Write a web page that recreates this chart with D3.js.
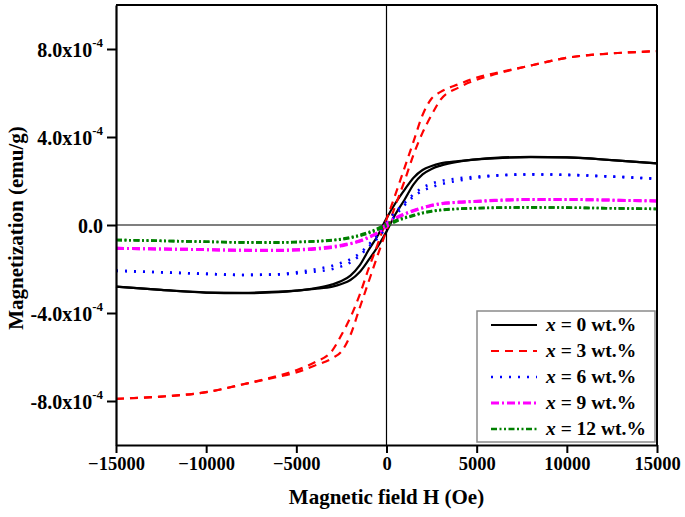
<!DOCTYPE html>
<html><head><meta charset="utf-8">
<script src="https://cdn.jsdelivr.net/npm/d3@7"></script>
<style>
body{margin:0;background:#fff}
svg{display:block}
</style>
</head><body><svg id="chart" width="685" height="517" font-family="'Liberation Serif', 'Times New Roman', Times, serif" font-weight="bold"></svg>
<script>
// ---- data (magnetization in units of 1e-4 emu/g) ----
const unit = 1e-4;
const fieldH = [-15000,-12500,-10000,-8000,-6000,-5000,-4000,-3000,-2500,-2000,-1500,-1000,-500,0,500,1000,1500,2000,2500,3000,4000,5000,6000,8000,10000,12500,15000];

const x0Down = [-2.80,-2.95,-3.07,-3.10,-3.05,-2.98,-2.88,-2.70,-2.55,-2.30,-1.85,-1.15,-0.50,0.30,1.00,1.60,2.15,2.50,2.68,2.80,2.90,2.98,3.03,3.08,3.07,2.95,2.80];
const x0Up   = [-2.80,-2.95,-3.07,-3.08,-3.03,-2.98,-2.90,-2.80,-2.68,-2.50,-2.15,-1.60,-1.00,-0.30,0.50,1.15,1.85,2.30,2.55,2.70,2.88,2.98,3.05,3.10,3.07,2.95,2.80];

const x3Down = [-7.90,-7.80,-7.60,-7.25,-6.85,-6.60,-6.25,-5.70,-5.00,-4.20,-3.20,-2.00,-0.90,0.25,1.40,2.60,3.80,5.00,5.75,6.05,6.40,6.70,6.90,7.25,7.60,7.80,7.90];
const x3Up   = [-7.90,-7.80,-7.60,-7.25,-6.90,-6.70,-6.40,-6.05,-5.75,-5.00,-3.80,-2.60,-1.40,-0.25,0.90,2.00,3.20,4.20,5.00,5.70,6.25,6.60,6.85,7.25,7.60,7.80,7.90];

const x6Down = [-2.08,-2.15,-2.22,-2.27,-2.24,-2.15,-2.02,-1.85,-1.72,-1.55,-1.30,-0.90,-0.45,0.10,0.60,1.00,1.40,1.70,1.88,2.00,2.12,2.20,2.25,2.30,2.28,2.20,2.10];
const x6Up   = [-2.08,-2.15,-2.22,-2.27,-2.25,-2.20,-2.12,-2.00,-1.88,-1.70,-1.40,-1.00,-0.60,-0.10,0.45,0.90,1.30,1.55,1.72,1.85,2.02,2.15,2.24,2.30,2.28,2.20,2.10];

const x9Down = [-1.06,-1.09,-1.12,-1.15,-1.15,-1.12,-1.07,-0.98,-0.92,-0.84,-0.74,-0.58,-0.34,0.05,0.32,0.50,0.64,0.78,0.90,0.97,1.04,1.08,1.12,1.16,1.16,1.13,1.09];
const x9Up   = [-1.06,-1.09,-1.12,-1.15,-1.16,-1.14,-1.10,-1.02,-0.95,-0.86,-0.72,-0.55,-0.36,-0.08,0.28,0.50,0.66,0.78,0.88,0.96,1.03,1.07,1.11,1.16,1.16,1.13,1.09];

const x12Down = [-0.68,-0.72,-0.76,-0.79,-0.79,-0.77,-0.74,-0.68,-0.63,-0.56,-0.46,-0.33,-0.16,0.05,0.20,0.34,0.45,0.56,0.64,0.69,0.74,0.77,0.79,0.80,0.79,0.76,0.73];
const x12Up   = [-0.68,-0.72,-0.76,-0.79,-0.80,-0.78,-0.75,-0.70,-0.66,-0.59,-0.50,-0.38,-0.22,-0.05,0.15,0.30,0.42,0.53,0.61,0.67,0.73,0.76,0.78,0.80,0.79,0.76,0.73];

const seriesLabels = ["0","3","6","9","12"];
const xTickValues = [-15000,-10000,-5000,0,5000,10000,15000];
const yTickValues = [-8e-4,-4e-4,0,4e-4,8e-4];
const yTickMantissa = ["-8.0x10","-4.0x10","0.0","4.0x10","8.0x10"];
const yTickExponent = "-4";
const xTitle = "Magnetic field H (Oe)";
const yTitle = "Magnetization (emu/g)";

const FONT = "'Liberation Serif', 'Times New Roman', Times, serif";

// ---- styles ----
const styles = [
  {color:"#000000", dash:null, width:2.2},
  {color:"#ff0000", dash:"8,6", width:2.2},
  {color:"#0000ff", dash:"2,7", width:2.6},
  {color:"#ff00ff", dash:"8,3,2,3", width:3},
  {color:"#008000", dash:"6,2.5,2,2.5,2,2.5", width:2.6}
];
const branches = [[x0Down,x0Up],[x3Down,x3Up],[x6Down,x6Up],[x9Down,x9Up],[x12Down,x12Up]];

const svg = d3.select("#chart");
const L=116, R=657, T=5, B=445;
const x = d3.scaleLinear().domain([-15000,15000]).range([L,R]);
const y = d3.scaleLinear().domain([-1e-3,1e-3]).range([B,T]);

// zero lines
svg.append("line").attr("x1",L).attr("x2",R).attr("y1",y(0)).attr("y2",y(0)).attr("stroke","#000").attr("stroke-width",1.2);
svg.append("line").attr("x1",x(0)).attr("x2",x(0)).attr("y1",T).attr("y2",B).attr("stroke","#000").attr("stroke-width",1.2);

// curves
const line = d3.line().x((d,i)=>x(fieldH[i])).y(d=>y(d*unit)).curve(d3.curveMonotoneX);
const plot = svg.append("g");
branches.forEach((pair,k)=>{
  pair.forEach(arr=>{
    plot.append("path").attr("d",line(arr)).attr("fill","none")
      .attr("stroke",styles[k].color).attr("stroke-width",styles[k].width)
      .attr("stroke-dasharray",styles[k].dash).attr("stroke-linejoin","round");
  });
});

// frame
svg.append("line").attr("x1",L).attr("x2",R).attr("y1",T).attr("y2",T).attr("stroke","#000").attr("stroke-width",2);
svg.append("line").attr("x1",R).attr("x2",R).attr("y1",T).attr("y2",B).attr("stroke","#000").attr("stroke-width",2);

// axes
const xAxis = svg.append("g").attr("transform",`translate(0,${B})`)
  .call(d3.axisBottom(x).tickValues(xTickValues).tickFormat(d3.format("d")).tickSize(8).tickSizeOuter(0).tickPadding(4));
const yAxis = svg.append("g").attr("transform",`translate(${L},0)`)
  .call(d3.axisLeft(y).tickValues(yTickValues).tickSize(9).tickSizeOuter(0).tickPadding(4).tickFormat(""));
[xAxis,yAxis].forEach(g=>{
  g.attr("font-family",FONT).attr("font-weight","bold");
  g.select(".domain").attr("stroke-width",2.2);
  g.selectAll(".tick line").attr("stroke-width",2);
  g.selectAll("text").attr("fill","#000");
});
xAxis.attr("font-size",18.5);
yAxis.attr("font-size",20);
yAxis.selectAll(".tick text").each(function(d,i){
  const t = d3.select(this).attr("dy","0.35em");
  t.text(null);
  t.append("tspan").text(yTickMantissa[i]);
  if (d !== 0) t.append("tspan").attr("font-size",13).attr("dy","-0.7em").text(yTickExponent);
});

// titles
svg.append("text").attr("x",(L+R)/2).attr("y",504).attr("text-anchor","middle")
  .attr("font-family",FONT).attr("font-weight","bold").attr("font-size",21).text(xTitle);
svg.append("text").attr("transform",`translate(23,${(T+B)/2+3}) rotate(-90)`).attr("text-anchor","middle")
  .attr("font-family",FONT).attr("font-weight","bold").attr("font-size",21).text(yTitle);

// legend
const lg = svg.append("g").attr("font-family",FONT).attr("font-weight","bold");
lg.append("rect").attr("x",477).attr("y",311).attr("width",178).attr("height",131)
  .attr("fill","#fff").attr("stroke","#8a8a8a").attr("stroke-width",1.5);
const rowY = d3.scaleLinear().domain([0,4]).range([325,429]);
seriesLabels.forEach((lab,k)=>{
  const yy = rowY(k);
  lg.append("line").attr("x1",491).attr("x2",537).attr("y1",yy).attr("y2",yy)
    .attr("stroke",styles[k].color).attr("stroke-width",styles[k].width).attr("stroke-dasharray",styles[k].dash);
  const t = lg.append("text").attr("x",546).attr("y",yy+6).attr("font-size",19.5);
  t.append("tspan").attr("font-style","italic").text("x");
  t.append("tspan").text(" = " + lab + " wt.%");
});
</script></body></html>
